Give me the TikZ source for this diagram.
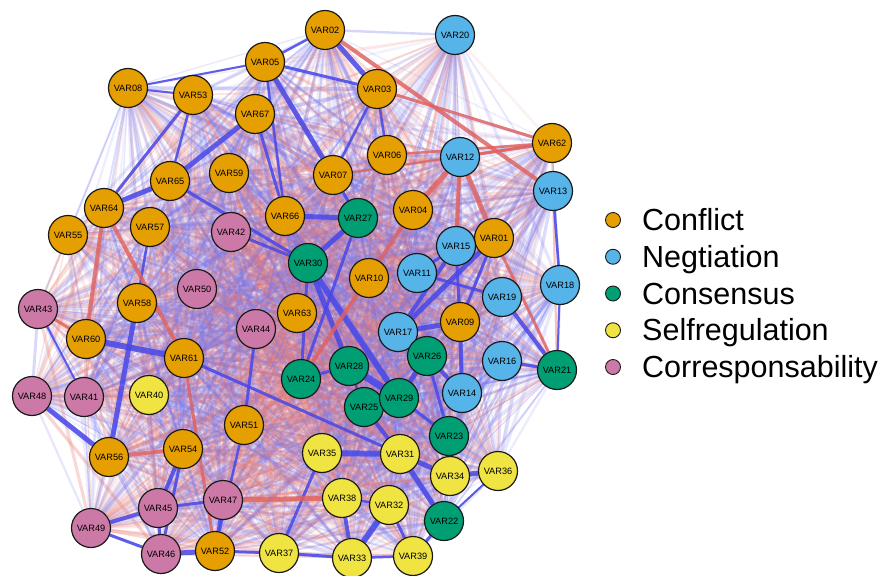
\documentclass[tikz,border=0pt]{standalone}
\usepackage{fontspec}
\setmainfont{Liberation Sans}

\definecolor{g1}{HTML}{E69F00}
\definecolor{g2}{HTML}{56B4E9}
\definecolor{g3}{HTML}{009E73}
\definecolor{g4}{HTML}{F0E442}
\definecolor{g5}{HTML}{CC79A7}
\definecolor{posblue}{RGB}{72,72,232}
\definecolor{negred}{RGB}{226,98,92}
\definecolor{poshaze}{RGB}{115,115,238}
\definecolor{neghaze}{RGB}{232,122,114}

\pgfdeclarelayer{edges}
\pgfsetlayers{edges,main}

\begin{document}
\begin{tikzpicture}[x=1pt, y=-1pt,
    var/.style={circle, draw=black!90, line width=1.2pt, minimum size=39pt, inner sep=0pt,
      font=\fontsize{9.2}{10}\selectfont},
    posedge/.style={color=posblue, opacity=0.85},
    negedge/.style={color=negred, opacity=0.8},
    legdot/.style={circle, draw=black!90, line width=0.9pt, minimum size=15pt, inner sep=0pt},
    legtext/.style={anchor=base west, inner sep=0pt, font=\fontsize{30.5}{32}\selectfont}]

  \useasboundingbox (0,0) rectangle (882,575);

  % the variables: number / x / y / scale
  \foreach \n/\px/\py/\g in {1/494/238/1, 2/325/30/1, 3/377/89/1, 4/413/210/1, 5/265/62/1,
      6/387/155/1, 7/333/175/1, 8/128/88/1, 9/460/322/1, 10/369/278/1,
      11/417/273/2, 12/460/157/2, 13/553/191/2, 14/462/393/2, 15/456/246/2,
      16/502/361/2, 17/398/332/2, 18/560/285/2, 19/502/297/2, 20/455/35/2,
      21/557/370/3, 22/444/521/3, 23/449/436/3, 24/301/379/3, 25/364/407/3,
      26/427/356/3, 27/358/218/3, 28/349/366/3, 29/399/398/3, 30/308/263/3,
      31/400/454/4, 32/389/505/4, 33/352/558/4, 34/450/476/4, 35/322/453/4,
      36/498/471/4, 37/279/553/4, 38/342/498/4, 39/413/556/4, 40/149/395/4,
      41/84/397/5, 42/231/232/5, 43/38/309/5, 44/256/329/5, 45/158/508/5,
      46/161/554/5, 47/223/500/5, 48/32/396/5, 49/91/528/5, 50/197/289/5,
      51/244/425/1, 52/215/551/1, 53/193/95/1, 54/183/449/1, 55/68/235/1,
      56/109/457/1, 57/150/227/1, 58/137/303/1, 59/229/173/1, 60/86/339/1,
      61/184/358/1, 62/552/143/1, 63/297/313/1, 64/104/208/1, 65/170/181/1,
      66/285/216/1, 67/255/114/1}{
    \node[var, fill=g\g] (var\n) at (\px,\py) {VAR\ifnum\n<10 0\fi\n};
    \expandafter\xdef\csname vx\n\endcsname{\px}
    \expandafter\xdef\csname vy\n\endcsname{\py}
    \expandafter\xdef\csname vg\n\endcsname{\g}
  }

  \begin{pgfonlayer}{edges}
    % faint web between every pair
    \pgfmathsetseed{4711}
    \foreach \i in {1,...,66}{
      \pgfmathtruncatemacro\js{\i+1}
      \foreach \j in {\js,...,67}{
        \pgfmathsetmacro\dd{veclen(\csname vx\i\endcsname-\csname vx\j\endcsname,
          \csname vy\i\endcsname-\csname vy\j\endcsname)}
        \pgfmathtruncatemacro\idx{(\csname vg\i\endcsname-1)*5+\csname vg\j\endcsname-1}
        \pgfmathsetmacro\pr{{0.15,0.7,0.45,0.5,0.5,
                             0.7,0.15,0.15,0.2,0.6,
                             0.45,0.15,0.15,0.15,0.78,
                             0.5,0.2,0.15,0.15,0.8,
                             0.5,0.6,0.78,0.8,0.15}[\idx]}
        \pgfmathtruncatemacro\sgn{rnd<\pr ? 1 : 0}
        \pgfmathsetmacro\op{(0.09+0.25*rnd)*min(1,250/\dd)}
        \pgfmathsetmacro\lw{1.0+2.8*rnd}
        \ifnum\sgn=1 \def\ec{neghaze}\else\def\ec{poshaze}\fi
        \draw[color=\ec, opacity=\op, line width=\lw pt] (var\i) -- (var\j);
      }
    }

    % strong positive links
    \foreach \a/\b/\w in {2/3/5, 5/7/5, 5/3/3, 65/67/5, 64/65/5, 64/53/3, 65/53/2.5,
        67/66/3, 65/30/3, 66/27/5, 27/30/5, 30/29/6, 28/29/7, 30/28/5, 30/24/3,
        27/24/3, 26/29/5, 26/14/4, 17/9/5, 17/26/3, 15/17/4, 1/17/5, 11/19/3,
        15/9/3, 1/9/3, 19/21/4, 16/21/3, 9/14/4, 23/26/3, 23/34/3, 25/31/4,
        35/31/6, 31/34/5, 34/36/5, 31/22/5, 32/33/6, 38/33/4, 35/37/3, 37/33/3,
        33/39/2.5, 39/22/3, 32/39/3, 38/32/2.5, 24/28/3, 25/29/4, 28/25/3,
        29/23/3, 60/61/6, 58/56/5, 48/56/5, 61/31/3, 44/51/3, 51/52/2.5,
        54/45/4, 45/47/3, 45/49/4, 45/46/3, 46/52/5, 47/52/3, 49/46/3, 54/46/3,
        43/41/2, 37/52/3, 36/22/2, 57/58/2.5, 42/30/3, 5/66/2.5, 2/5/2.5,
        8/53/2, 8/5/2, 3/7/2.5, 3/6/2.5, 7/27/3, 13/18/2.5, 18/21/2, 15/11/3}{
      \draw[posedge, line width=\w pt] (var\a) -- (var\b);
    }

    % strong negative links
    \foreach \a/\b/\w in {12/4/5, 12/1/5, 12/15/4, 2/13/4, 4/24/4, 1/21/3,
        62/3/3, 62/6/2.5, 62/12/3, 62/7/2, 64/60/4, 64/61/4,
        60/43/3, 56/54/4, 61/52/3, 47/38/5}{
      \draw[negedge, line width=\w pt] (var\a) -- (var\b);
    }
  \end{pgfonlayer}

  % legend
  \foreach \lab [count=\k] in {Conflict, Negtiation, Consensus, Selfregulation, Corresponsability}{
    \pgfmathsetmacro\yy{220+36.75*(\k-1)}
    \node[legdot, fill=g\k] (leg\k) at (613,\yy) {};
    \node[legtext] (legtext\k) at (642,\yy+10.5) {\lab};
  }

\end{tikzpicture}
\end{document}
